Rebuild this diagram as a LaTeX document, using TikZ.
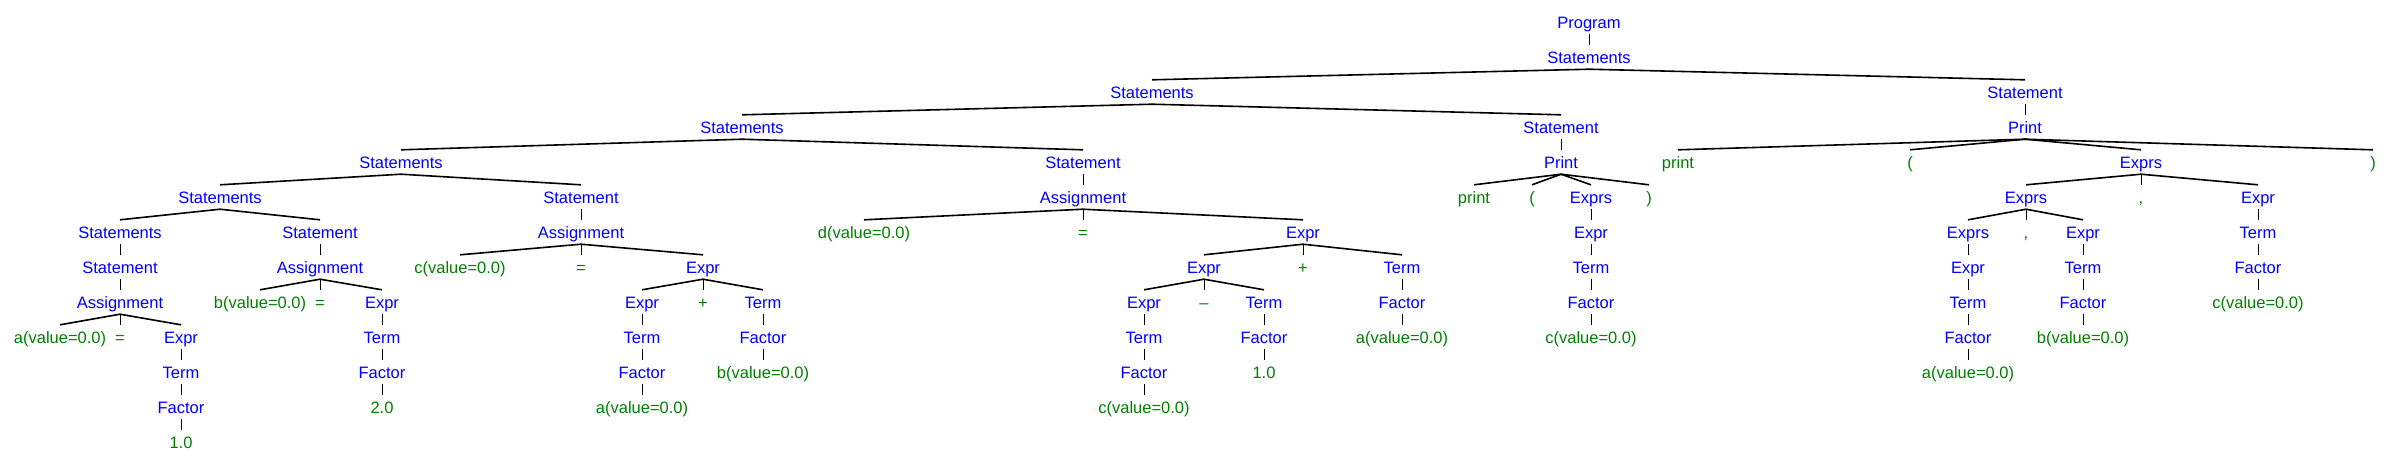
\documentclass[tikz,border=0pt]{standalone}
\usepackage{fontspec}
\setmainfont{Liberation Sans}
\usepackage{tikz}

\definecolor{nonterm}{RGB}{0,0,255}
\definecolor{term}{RGB}{0,128,0}

\begin{document}
\begin{tikzpicture}[x = 1pt, y = -35pt,
  every node/.style = {font = \fontsize{16.5}{20}\selectfont, inner xsep = 0pt, inner ysep = 1pt, text height = 17.9pt, text depth = 4.1pt},
  nt/.style = {text = nonterm},
  tm/.style = {text = term},
  stem/.style = {line width = 0.9pt},
  branch/.style = {line width = 1.6pt}]
\useasboundingbox (0,-0.629) rectangle (2391,12.571);

\node[nt] (program) at (1589,0) {Program};
\node[nt] (stmts1) at (1589,1) {Statements};
\node[nt] (stmts2) at (1152,2) {Statements};
\node[nt] (stmtP2) at (2025,2) {Statement};
\node[nt] (stmts3) at (742,3) {Statements};
\node[nt] (stmtP1) at (1561,3) {Statement};
\node[nt] (printB) at (2025,3) {Print};
\node[nt] (stmts4) at (401,4) {Statements};
\node[nt] (stmtD) at (1083,4) {Statement};
\node[nt] (printA) at (1561,4) {Print};
\node[tm] (kwB) at (1678,4) {print};
\node[tm] (lpB) at (1910,4) {(};
\node[nt] (exprsB) at (2141,4) {Exprs};
\node[tm] (rpB) at (2373,4) {)};
\node[nt] (stmts5) at (220,5) {Statements};
\node[nt] (stmtC) at (581,5) {Statement};
\node[nt] (asgnD) at (1083,5) {Assignment};
\node[tm] (kwA) at (1474,5) {print};
\node[tm] (lpA) at (1532,5) {(};
\node[nt] (exprsA) at (1591,5) {Exprs};
\node[tm] (rpA) at (1649,5) {)};
\node[nt] (exprsB2) at (2026,5) {Exprs};
\node[tm] (commaB) at (2141,5) {,};
\node[nt] (exprB) at (2258,5) {Expr};
\node[nt] (stmts6) at (120,6) {Statements};
\node[nt] (stmtB) at (320,6) {Statement};
\node[nt] (asgnC) at (581,6) {Assignment};
\node[tm] (dVar) at (864,6) {d(value=0.0)};
\node[tm] (dEq) at (1083,6) {=};
\node[nt] (dExpr) at (1303,6) {Expr};
\node[nt] (exprA) at (1591,6) {Expr};
\node[nt] (exprsB3) at (1968,6) {Exprs};
\node[tm] (commaB2) at (2026,6) {,};
\node[nt] (exprB2) at (2083,6) {Expr};
\node[nt] (termB) at (2258,6) {Term};
\node[nt] (stmtA) at (120,7) {Statement};
\node[nt] (asgnB) at (320,7) {Assignment};
\node[tm] (cVar) at (460,7) {c(value=0.0)};
\node[tm] (cEq) at (581,7) {=};
\node[nt] (cExpr) at (703,7) {Expr};
\node[nt] (dExpr2) at (1204,7) {Expr};
\node[tm] (dPlus) at (1303,7) {+};
\node[nt] (dTerm) at (1402,7) {Term};
\node[nt] (termA) at (1591,7) {Term};
\node[nt] (exprB3) at (1968,7) {Expr};
\node[nt] (termB2) at (2083,7) {Term};
\node[nt] (factorB) at (2258,7) {Factor};
\node[nt] (asgnA) at (120,8) {Assignment};
\node[tm] (bVar) at (260,8) {b(value=0.0)};
\node[tm] (bEq) at (320,8) {=};
\node[nt] (bExpr) at (382,8) {Expr};
\node[nt] (cExpr2) at (642,8) {Expr};
\node[tm] (cPlus) at (703,8) {+};
\node[nt] (cTerm) at (763,8) {Term};
\node[nt] (dExpr3) at (1144,8) {Expr};
\node[tm] (dMinus) at (1204,8) {\textendash};
\node[nt] (dTerm2) at (1264,8) {Term};
\node[nt] (dFactor) at (1402,8) {Factor};
\node[nt] (factorA) at (1591,8) {Factor};
\node[nt] (termB3) at (1968,8) {Term};
\node[nt] (factorB2) at (2083,8) {Factor};
\node[tm] (valB) at (2258,8) {c(value=0.0)};
\node[tm] (aVar) at (60,9) {a(value=0.0)};
\node[tm] (aEq) at (120,9) {=};
\node[nt] (aExpr) at (181,9) {Expr};
\node[nt] (bTerm) at (382,9) {Term};
\node[nt] (cTerm2) at (642,9) {Term};
\node[nt] (cFactor) at (763,9) {Factor};
\node[nt] (dTerm3) at (1144,9) {Term};
\node[nt] (dFactor2) at (1264,9) {Factor};
\node[tm] (dVal) at (1402,9) {a(value=0.0)};
\node[tm] (valA) at (1591,9) {c(value=0.0)};
\node[nt] (factorB3) at (1968,9) {Factor};
\node[tm] (valB2) at (2083,9) {b(value=0.0)};
\node[nt] (aTerm) at (181,10) {Term};
\node[nt] (bFactor) at (382,10) {Factor};
\node[nt] (cFactor2) at (642,10) {Factor};
\node[tm] (cVal) at (763,10) {b(value=0.0)};
\node[nt] (dFactor3) at (1144,10) {Factor};
\node[tm] (dNum) at (1264,10) {1.0};
\node[tm] (valB3) at (1968,10) {a(value=0.0)};
\node[nt] (aFactor) at (181,11) {Factor};
\node[tm] (bNum) at (382,11) {2.0};
\node[tm] (cVal2) at (642,11) {a(value=0.0)};
\node[tm] (dVal3) at (1144,11) {c(value=0.0)};
\node[tm] (aNum) at (181,12) {1.0};

\draw (program.south) edge[stem] (stmts1.north);
\draw (stmts1.south) edge[branch] (stmts2.north);
\draw (stmts1.south) edge[branch] (stmtP2.north);
\draw (stmts2.south) edge[branch] (stmts3.north);
\draw (stmts2.south) edge[branch] (stmtP1.north);
\draw (stmts3.south) edge[branch] (stmts4.north);
\draw (stmts3.south) edge[branch] (stmtD.north);
\draw (stmts4.south) edge[branch] (stmts5.north);
\draw (stmts4.south) edge[branch] (stmtC.north);
\draw (stmts5.south) edge[branch] (stmts6.north);
\draw (stmts5.south) edge[branch] (stmtB.north);
\draw (stmts6.south) edge[stem] (stmtA.north);

\draw (stmtA.south) edge[stem] (asgnA.north);
\draw (asgnA.south) edge[branch] (aVar.north);
\draw (asgnA.south) edge[stem] (aEq.north);
\draw (asgnA.south) edge[branch] (aExpr.north);
\draw (aExpr.south) edge[stem] (aTerm.north);
\draw (aTerm.south) edge[stem] (aFactor.north);
\draw (aFactor.south) edge[stem] (aNum.north);

\draw (stmtB.south) edge[stem] (asgnB.north);
\draw (asgnB.south) edge[branch] (bVar.north);
\draw (asgnB.south) edge[stem] (bEq.north);
\draw (asgnB.south) edge[branch] (bExpr.north);
\draw (bExpr.south) edge[stem] (bTerm.north);
\draw (bTerm.south) edge[stem] (bFactor.north);
\draw (bFactor.south) edge[stem] (bNum.north);

\draw (stmtC.south) edge[stem] (asgnC.north);
\draw (asgnC.south) edge[branch] (cVar.north);
\draw (asgnC.south) edge[stem] (cEq.north);
\draw (asgnC.south) edge[branch] (cExpr.north);
\draw (cExpr.south) edge[branch] (cExpr2.north);
\draw (cExpr.south) edge[stem] (cPlus.north);
\draw (cExpr.south) edge[branch] (cTerm.north);
\draw (cExpr2.south) edge[stem] (cTerm2.north);
\draw (cTerm2.south) edge[stem] (cFactor2.north);
\draw (cFactor2.south) edge[stem] (cVal2.north);
\draw (cTerm.south) edge[stem] (cFactor.north);
\draw (cFactor.south) edge[stem] (cVal.north);

\draw (stmtD.south) edge[stem] (asgnD.north);
\draw (asgnD.south) edge[branch] (dVar.north);
\draw (asgnD.south) edge[stem] (dEq.north);
\draw (asgnD.south) edge[branch] (dExpr.north);
\draw (dExpr.south) edge[branch] (dExpr2.north);
\draw (dExpr.south) edge[stem] (dPlus.north);
\draw (dExpr.south) edge[branch] (dTerm.north);
\draw (dExpr2.south) edge[branch] (dExpr3.north);
\draw (dExpr2.south) edge[stem] (dMinus.north);
\draw (dExpr2.south) edge[branch] (dTerm2.north);
\draw (dExpr3.south) edge[stem] (dTerm3.north);
\draw (dTerm3.south) edge[stem] (dFactor3.north);
\draw (dFactor3.south) edge[stem] (dVal3.north);
\draw (dTerm2.south) edge[stem] (dFactor2.north);
\draw (dFactor2.south) edge[stem] (dNum.north);
\draw (dTerm.south) edge[stem] (dFactor.north);
\draw (dFactor.south) edge[stem] (dVal.north);

\draw (stmtP1.south) edge[stem] (printA.north);
\draw (printA.south) edge[branch] (kwA.north);
\draw (printA.south) edge[branch] (lpA.north);
\draw (printA.south) edge[branch] (exprsA.north);
\draw (printA.south) edge[branch] (rpA.north);
\draw (exprsA.south) edge[stem] (exprA.north);
\draw (exprA.south) edge[stem] (termA.north);
\draw (termA.south) edge[stem] (factorA.north);
\draw (factorA.south) edge[stem] (valA.north);

\draw (stmtP2.south) edge[stem] (printB.north);
\draw (printB.south) edge[branch] (kwB.north);
\draw (printB.south) edge[branch] (lpB.north);
\draw (printB.south) edge[branch] (exprsB.north);
\draw (printB.south) edge[branch] (rpB.north);
\draw (exprsB.south) edge[branch] (exprsB2.north);
\draw (exprsB.south) edge[stem] (commaB.north);
\draw (exprsB.south) edge[branch] (exprB.north);
\draw (exprsB2.south) edge[branch] (exprsB3.north);
\draw (exprsB2.south) edge[stem] (commaB2.north);
\draw (exprsB2.south) edge[branch] (exprB2.north);
\draw (exprsB3.south) edge[stem] (exprB3.north);
\draw (exprB3.south) edge[stem] (termB3.north);
\draw (termB3.south) edge[stem] (factorB3.north);
\draw (factorB3.south) edge[stem] (valB3.north);
\draw (exprB2.south) edge[stem] (termB2.north);
\draw (termB2.south) edge[stem] (factorB2.north);
\draw (factorB2.south) edge[stem] (valB2.north);
\draw (exprB.south) edge[stem] (termB.north);
\draw (termB.south) edge[stem] (factorB.north);
\draw (factorB.south) edge[stem] (valB.north);
\end{tikzpicture}
\end{document}
